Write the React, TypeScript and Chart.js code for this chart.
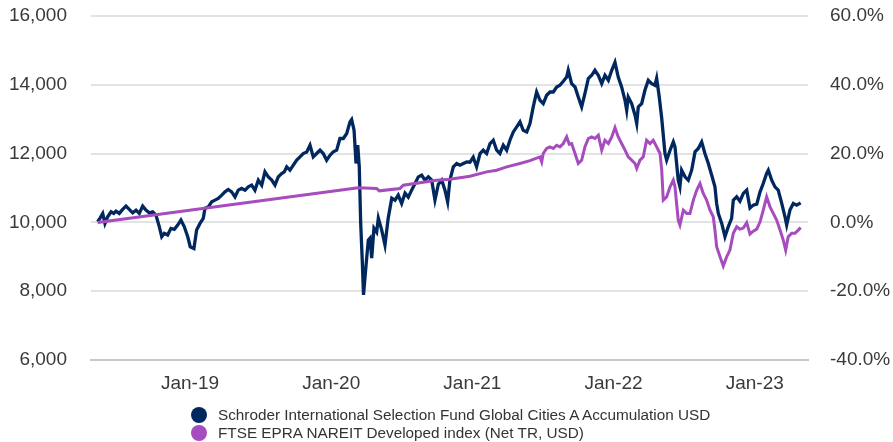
import React, { useEffect, useRef } from "react";
import { Chart, registerables } from "chart.js";

Chart.register(...registerables);

// x values are fractional years (e.g. 2019.5 = start of July 2019)
const fundDates: number[] = [
  2018.346, 2018.363, 2018.382, 2018.398, 2018.417, 2018.441, 2018.46, 2018.476, 2018.499, 2018.523,
  2018.547, 2018.57, 2018.594, 2018.618, 2018.641, 2018.665, 2018.688, 2018.712, 2018.736, 2018.759,
  2018.783, 2018.8, 2018.818, 2018.842, 2018.865, 2018.889, 2018.913, 2018.936, 2018.96, 2018.984,
  2019.002, 2019.028, 2019.047, 2019.071, 2019.094, 2019.106, 2019.13, 2019.154, 2019.177, 2019.2,
  2019.225, 2019.248, 2019.271, 2019.295, 2019.319, 2019.342, 2019.366, 2019.39, 2019.413, 2019.437,
  2019.46, 2019.484, 2019.508, 2019.531, 2019.555, 2019.579, 2019.602, 2019.625, 2019.649, 2019.668,
  2019.685, 2019.708, 2019.732, 2019.756, 2019.779, 2019.802, 2019.827, 2019.85, 2019.873, 2019.897,
  2019.921, 2019.944, 2019.968, 2019.992, 2020.015, 2020.039, 2020.062, 2020.086, 2020.11, 2020.133,
  2020.145, 2020.162, 2020.176, 2020.188, 2020.199, 2020.209, 2020.22, 2020.229, 2020.247, 2020.263,
  2020.275, 2020.287, 2020.303, 2020.322, 2020.334, 2020.358, 2020.381, 2020.404, 2020.429, 2020.452,
  2020.475, 2020.499, 2020.523, 2020.546, 2020.57, 2020.594, 2020.617, 2020.641, 2020.664, 2020.688,
  2020.712, 2020.735, 2020.759, 2020.783, 2020.806, 2020.825, 2020.841, 2020.865, 2020.889, 2020.912,
  2020.936, 2020.96, 2020.983, 2021.006, 2021.03, 2021.054, 2021.077, 2021.101, 2021.125, 2021.148,
  2021.172, 2021.195, 2021.219, 2021.243, 2021.266, 2021.29, 2021.314, 2021.337, 2021.36, 2021.385,
  2021.408, 2021.431, 2021.455, 2021.479, 2021.502, 2021.526, 2021.55, 2021.573, 2021.597, 2021.62,
  2021.644, 2021.668, 2021.679, 2021.703, 2021.727, 2021.75, 2021.774, 2021.797, 2021.821, 2021.845,
  2021.868, 2021.892, 2021.916, 2021.939, 2021.963, 2021.987, 2022.01, 2022.033, 2022.057, 2022.081,
  2022.093, 2022.104, 2022.128, 2022.152, 2022.164, 2022.175, 2022.199, 2022.222, 2022.246, 2022.27,
  2022.293, 2022.305, 2022.322, 2022.341, 2022.364, 2022.376, 2022.4, 2022.423, 2022.435, 2022.458,
  2022.47, 2022.482, 2022.506, 2022.529, 2022.553, 2022.577, 2022.6, 2022.624, 2022.647, 2022.671,
  2022.695, 2022.718, 2022.73, 2022.742, 2022.766, 2022.789, 2022.812, 2022.836, 2022.848, 2022.872,
  2022.895, 2022.919, 2022.943, 2022.966, 2022.989, 2023.014, 2023.037, 2023.06, 2023.084, 2023.096,
  2023.12, 2023.143, 2023.166, 2023.191, 2023.214, 2023.226, 2023.249, 2023.273, 2023.297, 2023.325,
];

const fundValues: number[] = [
  10020, 10125, 10261, 9971, 10163, 10308, 10261, 10328, 10261, 10377,
  10473, 10377, 10279, 10357, 10261, 10473, 10357, 10279, 10308, 10212,
  9872, 9582, 9681, 9631, 9826, 9797, 9922, 10067, 9872, 9582,
  9292, 9239, 9776, 9971, 10116, 10406, 10453, 10598, 10647, 10697,
  10793, 10888, 10958, 10888, 10743, 10938, 10987, 10938, 11033, 11083,
  10938, 11228, 11083, 11469, 11324, 11228, 11083, 11324, 11422, 11469,
  11614, 11518, 11663, 11809, 11904, 12003, 12050, 12244, 11904, 12003,
  12099, 12003, 11809, 11954, 12050, 12099, 12439, 12439, 12584, 12920,
  12990, 12679, 11713, 12244, 11614, 9971, 8906, 7890, 8760, 9486,
  9544, 8964, 9835, 9718, 10125, 9776, 9341, 10125, 10705, 10647,
  10793, 10552, 10851, 10734, 10938, 11132, 11324, 11373, 11228, 11324,
  11228, 10647, 11112, 11228, 10938, 10598, 11228, 11614, 11713, 11663,
  11713, 11759, 11750, 11896, 11614, 12003, 12099, 12003, 12293, 12389,
  12099, 12003, 12244, 12099, 12389, 12630, 12775, 12920, 12679, 12630,
  12874, 13356, 13791, 13550, 13455, 13696, 13791, 13791, 13937, 13986,
  14102, 14227, 14421, 14035, 13937, 13646, 13356, 13745, 14180, 14276,
  14421, 14276, 14035, 14276, 14131, 14421, 14654, 14227, 13937, 13550,
  13260, 13646, 13455, 13115, 12874, 13356, 13455, 13841, 14131, 14035,
  13986, 14189, 13696, 13028, 12003, 11809, 12099, 12340, 12195, 11228,
  11033, 11518, 11324, 11228, 11518, 12050, 12148, 12340, 12003, 11713,
  11373, 11033, 10552, 10261, 9971, 9582, 9872, 10116, 10647, 10743,
  10618, 10842, 10938, 10415, 10502, 10531, 10880, 11132, 11422, 11518,
  11228, 11033, 10938, 10552, 10163, 9922, 10357, 10552, 10502, 10569,
];

const indexDates: number[] = [
  2018.346, 2020.192, 2020.322, 2020.341, 2020.487, 2020.511, 2020.747, 2020.841, 2020.983, 2021.101,
  2021.172, 2021.243, 2021.337, 2021.408, 2021.479, 2021.491, 2021.502, 2021.526, 2021.55, 2021.573,
  2021.597, 2021.62, 2021.644, 2021.668, 2021.686, 2021.703, 2021.727, 2021.75, 2021.774, 2021.797,
  2021.821, 2021.845, 2021.868, 2021.892, 2021.916, 2021.939, 2021.963, 2021.987, 2022.01, 2022.033,
  2022.057, 2022.081, 2022.104, 2022.128, 2022.152, 2022.164, 2022.187, 2022.21, 2022.234, 2022.258,
  2022.281, 2022.305, 2022.329, 2022.341, 2022.352, 2022.376, 2022.4, 2022.423, 2022.435, 2022.458,
  2022.47, 2022.494, 2022.518, 2022.541, 2022.565, 2022.589, 2022.612, 2022.635, 2022.659, 2022.683,
  2022.706, 2022.718, 2022.73, 2022.754, 2022.777, 2022.801, 2022.824, 2022.848, 2022.872, 2022.895,
  2022.919, 2022.943, 2022.966, 2022.989, 2023.014, 2023.037, 2023.06, 2023.084, 2023.108, 2023.131,
  2023.155, 2023.179, 2023.202, 2023.219, 2023.237, 2023.261, 2023.285, 2023.308, 2023.325,
];

const indexValues: number[] = [
  10000, 11004, 10987, 10917, 10987, 11083, 11228, 11257, 11344, 11469,
  11518, 11614, 11713, 11794, 11904, 11759, 12003, 12148, 12195, 12148,
  12244, 12195, 12293, 12485, 12273, 12293, 12003, 11713, 11809, 12195,
  12439, 12485, 12439, 12534, 12099, 12389, 12293, 12485, 12758, 12485,
  12293, 12099, 11904, 11809, 11713, 11568, 11809, 11904, 12389, 12293,
  12389, 12195, 12003, 11518, 10647, 10743, 11033, 11228, 11033, 10067,
  9922, 10357, 10261, 10261, 10647, 10938, 11132, 10842, 10647, 10357,
  10163, 9776, 9292, 9001, 8731, 9001, 9196, 9681, 9872, 9806,
  9835, 9994, 9660, 9747, 9806, 10009, 10357, 10743, 10453, 10261,
  10067, 9776, 9486, 9196, 9582, 9681, 9681, 9776, 9855,
];

const xTickYears: number[] = [2019, 2020, 2021, 2022, 2023];
const leftTicks: number[] = [6000, 8000, 10000, 12000, 14000, 16000];
const rightTicks: number[] = [-40, -20, 0, 20, 40, 60];

const seriesNames: string[] = [
  "Schroder International Selection Fund Global Cities A Accumulation USD",
  "FTSE EPRA NAREIT Developed index (Net TR, USD)",
];
const seriesColors: string[] = ["#00285e", "#a64cbe"];

const FONT = "'Liberation Sans', Arial, sans-serif";
const TEXT = "#3a3a3a";

export default function App() {
  const ref = useRef<HTMLCanvasElement | null>(null);

  useEffect(() => {
    document.body.style.margin = "0";
    const ctx = ref.current;
    if (!ctx) return;
    const fund = fundDates.map((d, i) => ({ x: d, y: fundValues[i] }));
    const idx = indexDates.map((d, i) => ({ x: d, y: indexValues[i] }));
    const chart = new Chart(ctx, {
      type: "line",
      data: {
        datasets: [
          {
            label: seriesNames[1],
            data: idx,
            borderColor: seriesColors[1],
            borderWidth: 3,
            pointRadius: 0,
            tension: 0,
            yAxisID: "y",
          },
          {
            label: seriesNames[0],
            data: fund,
            borderColor: seriesColors[0],
            borderWidth: 3.3,
            pointRadius: 0,
            tension: 0,
            yAxisID: "y",
          },
        ],
      },
      options: {
        animation: false,
        responsive: false,
        maintainAspectRatio: false,
        layout: { padding: { top: 16, left: 0, right: 0, bottom: 0 } },
        plugins: { legend: { display: false }, tooltip: { enabled: false } },
        scales: {
          x: {
            type: "linear",
            min: 2018.299,
            max: 2023.377,
            afterBuildTicks: (s: any) => {
              s.ticks = xTickYears.map((v) => ({ value: v }));
            },
            afterFit: (s: any) => {
              s.height = 82;
              s.paddingLeft = 0;
              s.paddingRight = 0;
            },
            ticks: {
              autoSkip: false,
              maxRotation: 0,
              padding: 12,
              color: TEXT,
              font: { family: FONT, size: 19 },
              callback: (v: any) => "Jan-" + String(v).slice(2),
            },
            grid: { display: false, drawTicks: false },
            border: { display: true, color: "#c8c8c8", width: 2 },
          },
          y: {
            position: "left",
            min: 6000,
            max: 16000,
            afterBuildTicks: (s: any) => {
              s.ticks = leftTicks.map((v) => ({ value: v }));
            },
            afterFit: (s: any) => {
              s.width = 91;
              s.paddingTop = 0;
              s.paddingBottom = 0;
            },
            ticks: {
              padding: 24,
              color: TEXT,
              font: { family: FONT, size: 19 },
              callback: (v: any) => Number(v).toLocaleString("en-US"),
            },
            grid: { color: "#e3e3e3", lineWidth: 2, drawTicks: false },
            border: { display: false },
          },
          y2: {
            position: "right",
            min: -40,
            max: 60,
            afterBuildTicks: (s: any) => {
              s.ticks = rightTicks.map((v) => ({ value: v }));
            },
            afterFit: (s: any) => {
              s.width = 85;
              s.paddingTop = 0;
              s.paddingBottom = 0;
            },
            ticks: {
              padding: 22,
              color: TEXT,
              font: { family: FONT, size: 19 },
              callback: (v: any) => Number(v).toFixed(1) + "%",
            },
            grid: { display: false, drawTicks: false },
            border: { display: false },
          },
        },
      },
    });
    return () => chart.destroy();
  }, []);

  return (
    <div style={{ position: "relative", width: 893, height: 442 }}>
      <canvas ref={ref} width={893} height={442} style={{ display: "block", width: 893, height: 442 }} />
      <div
        style={{
          position: "absolute",
          left: 191,
          top: 406,
          fontFamily: FONT,
          fontSize: 15.3,
          color: "#333333",
        }}
      >
        {seriesNames.map((n, i) => (
          <div key={n} style={{ display: "flex", alignItems: "center", height: 18, whiteSpace: "nowrap" }}>
            <span
              style={{
                display: "inline-block",
                width: 16,
                height: 16,
                borderRadius: "50%",
                background: seriesColors[i],
                marginRight: 11,
              }}
            />
            <span>{n}</span>
          </div>
        ))}
      </div>
    </div>
  );
}
